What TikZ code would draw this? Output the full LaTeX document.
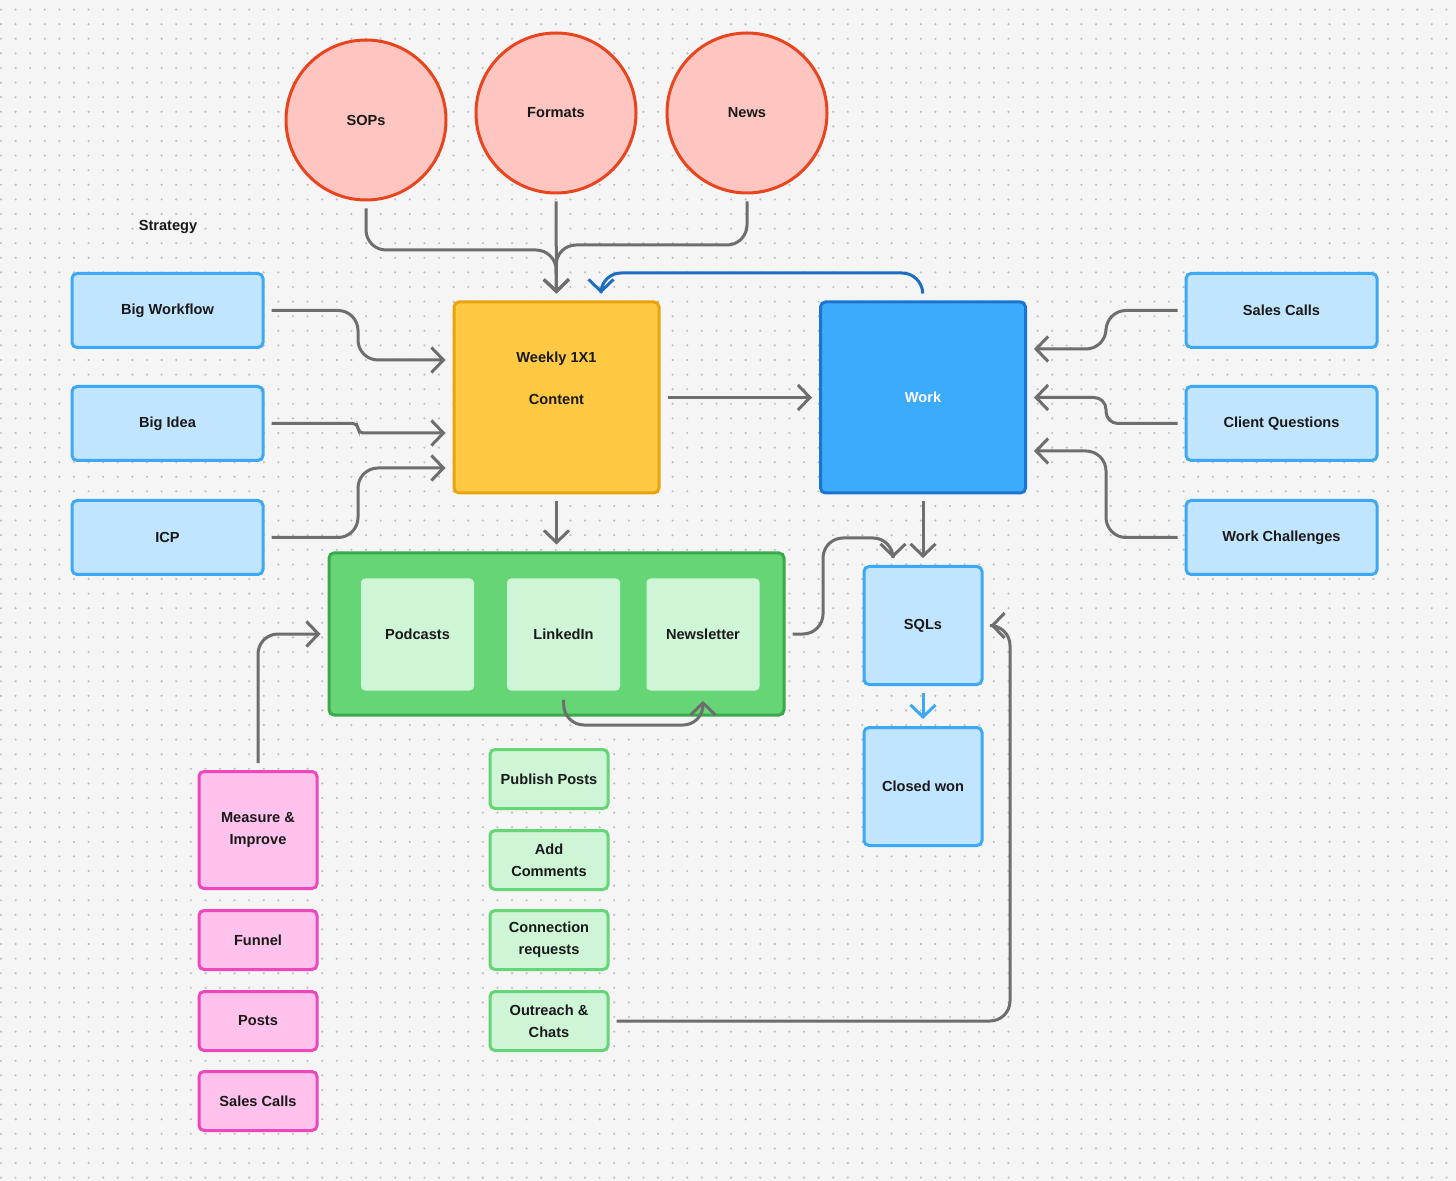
\documentclass[tikz,border=0pt]{standalone}
\usepackage{fontspec}
\setmainfont{Liberation Sans}
\usetikzlibrary{arrows.meta,calc}
\definecolor{bgc}{HTML}{F5F5F5}
\definecolor{dotc}{HTML}{BEBEBE}
\definecolor{circf}{HTML}{FFC6C1}
\definecolor{circd}{HTML}{E8441E}
\definecolor{lbf}{HTML}{C2E5FF}
\definecolor{lbd}{HTML}{3DA8F5}
\definecolor{yelf}{HTML}{FFC943}
\definecolor{yeld}{HTML}{E8A30F}
\definecolor{workf}{HTML}{3DABFC}
\definecolor{workd}{HTML}{1B74D0}
\definecolor{grf}{HTML}{66D575}
\definecolor{grd}{HTML}{3AA94A}
\definecolor{grl}{HTML}{CFF5D7}
\definecolor{pkf}{HTML}{FFC2EC}
\definecolor{pkd}{HTML}{EE46BC}
\definecolor{conc}{HTML}{6E6E6E}
\definecolor{bluec}{HTML}{1D6EC2}
\begin{document}
\begin{tikzpicture}[x=0.5pt,y=-0.5pt,
  txt/.style={font=\fontsize{7.3}{11}\selectfont\bfseries, text=black!90, align=center},
  circ/.style={txt, circle, draw=circd, fill=circf, line width=1.5pt, minimum size=80pt, inner sep=0pt},
  lbox/.style={txt, rectangle, rounded corners=2.5pt, draw=lbd, fill=lbf, line width=1.5pt, minimum width=95.5pt, minimum height=37pt},
  sqbox/.style={txt, rectangle, rounded corners=2.5pt, draw=lbd, fill=lbf, line width=1.5pt, minimum width=59pt, minimum height=59pt},
  bigbox/.style={txt, rectangle, rounded corners=2.5pt, line width=1.5pt, minimum width=102.5pt, minimum height=95.5pt},
  inbox/.style={txt, rectangle, rounded corners=2pt, fill=grl, minimum width=56.5pt, minimum height=56pt},
  pbox/.style={txt, rectangle, rounded corners=2.5pt, draw=pkd, fill=pkf, line width=1.5pt, minimum width=59pt, minimum height=29.5pt},
  gbox/.style={txt, rectangle, rounded corners=2.5pt, draw=grf, fill=grl, line width=1.5pt, minimum width=59pt, minimum height=29.5pt},
  conn/.style={draw=conc, line width=1.5pt, rounded corners=10pt, shorten <=3.5pt, shorten >=3.5pt,
    -{Straight Barb[length=6pt,width=12.5pt,line width=1.5pt]}},
]
\useasboundingbox (0,0) rectangle (1456,1181);
\fill[bgc] (0,0) rectangle (1456,1181);
% dot grid
\foreach \r in {0,...,81} {
  \draw[dotc, line width=1.2pt, line cap=round, dash pattern=on 0pt off 7.3pt, dash phase=-0.5pt]
    (0,{9.6+14.6*\r}) -- (1456,{9.6+14.6*\r});
}

% circles
\node[circ] (sops) at (366,120) {SOPs};
\node[circ] (formats) at (556,113) {Formats};
\node[circ] (news) at (747,113) {News};

\node[txt] (strategy) at (168,227) {Strategy};

% left boxes
\node[lbox] (bw) at (167.5,310.5) {Big Workflow};
\node[lbox] (bi) at (167.5,423.5) {Big Idea};
\node[lbox] (icp) at (167.5,537.5) {ICP};

% right boxes
\node[lbox] (sc) at (1281.5,310.5) {Sales Calls};
\node[lbox] (cq) at (1281.5,423.5) {Client Questions};
\node[lbox] (wc) at (1281.5,537.5) {Work Challenges};

% central
\node[bigbox, draw=yeld, fill=yelf] (weekly) at (556.5,397.5) {};
\node[txt] (weeklyt) at (556.5,359) {Weekly 1X1};
\node[txt] (contentt) at (556.5,399) {Content};
\node[bigbox, draw=workd, fill=workf, text=white] (work) at (923,397.5) {Work};

% container
\node[rectangle, rounded corners=2.5pt, draw=grd, fill=grf, line width=1.5pt, minimum width=227.5pt, minimum height=81pt] (container) at (556.5,634) {};
\node[inbox] (podcasts) at (417.5,634.5) {Podcasts};
\node[inbox] (linkedin) at (563.5,634.5) {LinkedIn};
\node[inbox] (newsletter) at (703,634.5) {Newsletter};

% SQLs
\node[sqbox] (sqls) at (923,625.5) {SQLs};
\node[sqbox] (closed) at (923,786.5) {Closed won};

% pink
\node[pbox, minimum height=58.5pt] (measure) at (258,830) {Measure \&\\Improve};
\node[pbox] (funnel) at (258,940) {Funnel};
\node[pbox] (posts) at (258,1021) {Posts};
\node[pbox] (salescalls) at (258,1101) {Sales Calls};

% green small
\node[gbox] (publish) at (549,779) {Publish Posts};
\node[gbox] (addc) at (549,860) {Add\\Comments};
\node[gbox] (connreq) at (549,940) {Connection\\requests};
\node[gbox] (outreach) at (549,1021) {Outreach \&\\Chats};

% connectors
\draw[conn] (sops.south) -- (366,250) -- (556,250) -- (weekly.north);
\draw[conn] (news.south) -- (747,245) -- (556,245) -- (weekly.north);
\draw[conn] (formats.south) -- (weekly.north);
\draw[conn, draw=bluec] (work.north) -- (922,273) -- (601,273) -- ($(weekly.north)+(44.5,0)$);

\draw[conn] (bw.east) -- (358,310.5) -- (358,360) -- ($(weekly.west)+(0,-37.5)$);
\draw[conn, rounded corners=2.5pt] (bi.east) -- (358,423.5) -- (358,433) -- ($(weekly.west)+(0,35.5)$);
\draw[conn] (icp.east) -- (358,537.5) -- (358,468) -- ($(weekly.west)+(0,70.5)$);

\draw[conn] (weekly.east) -- (work.west);

\draw[conn] (sc.west) -- (1106,310.5) -- (1106,349) -- ($(work.east)+(0,-48.5)$);
\draw[conn, rounded corners=6pt] (cq.west) -- (1106,423.5) -- (1106,397.5) -- (work.east);
\draw[conn] (wc.west) -- (1106,537.5) -- (1106,451) -- ($(work.east)+(0,53.5)$);

\draw[conn] (weekly.south) -- (container.north);
\draw[conn] (work.south) -- (sqls.north);
\draw[conn] (container.east) -- (823,634) -- (823,538) -- (893,538) -- ($(sqls.north)+(-30,0)$);
\draw[conn, draw=lbd] (sqls.south) -- (closed.north);
\draw[conn] (measure.north) -- (258,634) -- (container.west);
\draw[conn, shorten <=4.5pt, shorten >=5pt] (linkedin.south) -- (564,725) -- (703,725) -- (newsletter.south);
\draw[conn] (outreach.east) -- (1010,1021) -- (1010,625.5) -- (sqls.east);
\end{tikzpicture}
\end{document}
